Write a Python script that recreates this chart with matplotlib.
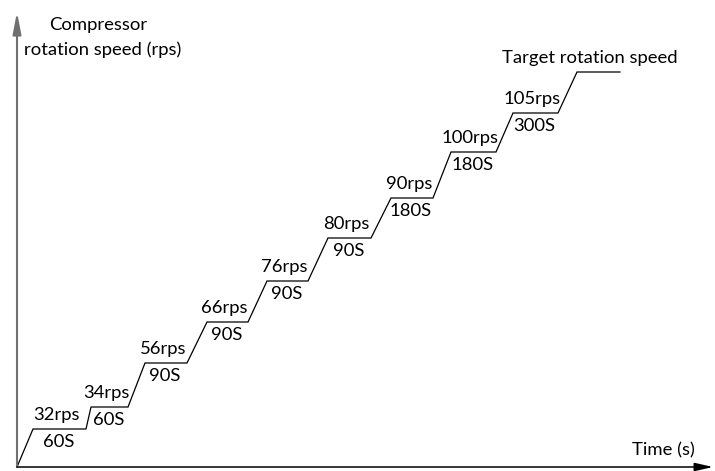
import matplotlib
matplotlib.use('Agg')
import matplotlib.pyplot as plt

# schematic staircase (units: px from the origin of the axes)
tread_start = [16, 74, 128, 190, 250, 311, 374, 434, 496, 560]
tread_end = [69, 111, 170, 231, 291, 354, 416, 479, 541, 603]
level = [38, 60, 104, 145, 186, 229, 269, 315, 354, 395]

speed_labels = ['32rps', '34rps', '56rps', '66rps', '76rps', '80rps', '90rps', '100rps', '105rps']
hold_labels = ['60S', '60S', '90S', '90S', '90S', '90S', '180S', '180S', '300S']

plt.rcParams['font.family'] = ['Lato', 'DejaVu Sans']
FS = 13.3

fig = plt.figure(figsize=(7.15, 4.71), dpi=100)
ax = fig.add_axes([0, 0, 1, 1])
ax.set_xlim(-17, 698)
ax.set_ylim(-4, 467)
ax.axis('off')

# build the staircase path
xs = [0]
ys = [0]
for s, e, l in zip(tread_start, tread_end, level):
    xs += [s, e]
    ys += [l, l]
ax.plot(xs, ys, color='black', lw=0.9, solid_joinstyle='miter')

# axes with arrows
ax.annotate('', xy=(0, 455), xytext=(0, 0),
            arrowprops=dict(arrowstyle='-|>,head_length=1.3,head_width=0.25', mutation_scale=10,
                            color='#707070', lw=1.5, shrinkA=0, shrinkB=0))
ax.annotate('', xy=(696, 0), xytext=(0, 0),
            arrowprops=dict(arrowstyle='-|>,head_length=1.1,head_width=0.25', mutation_scale=10,
                            color='black', lw=1.1, shrinkA=0, shrinkB=0))

# step labels
for i in range(len(speed_labels)):
    mid = (tread_start[i] + tread_end[i]) / 2
    ax.text(mid - 3, level[i] + 14, speed_labels[i], ha='center', va='center', fontsize=FS)
    ax.text(mid - 1, level[i] - 13, hold_labels[i], ha='center', va='center', fontsize=FS)

ax.text(81.5, 442, 'Compressor', ha='center', va='center', fontsize=FS)
ax.text(86, 417, 'rotation speed (rps)', ha='center', va='center', fontsize=FS)
ax.text(573, 409, 'Target rotation speed', ha='center', va='center', fontsize=FS)
ax.text(646.5, 17, 'Time (s)', ha='center', va='center', fontsize=FS)

fig.savefig('out.png', dpi=100)
